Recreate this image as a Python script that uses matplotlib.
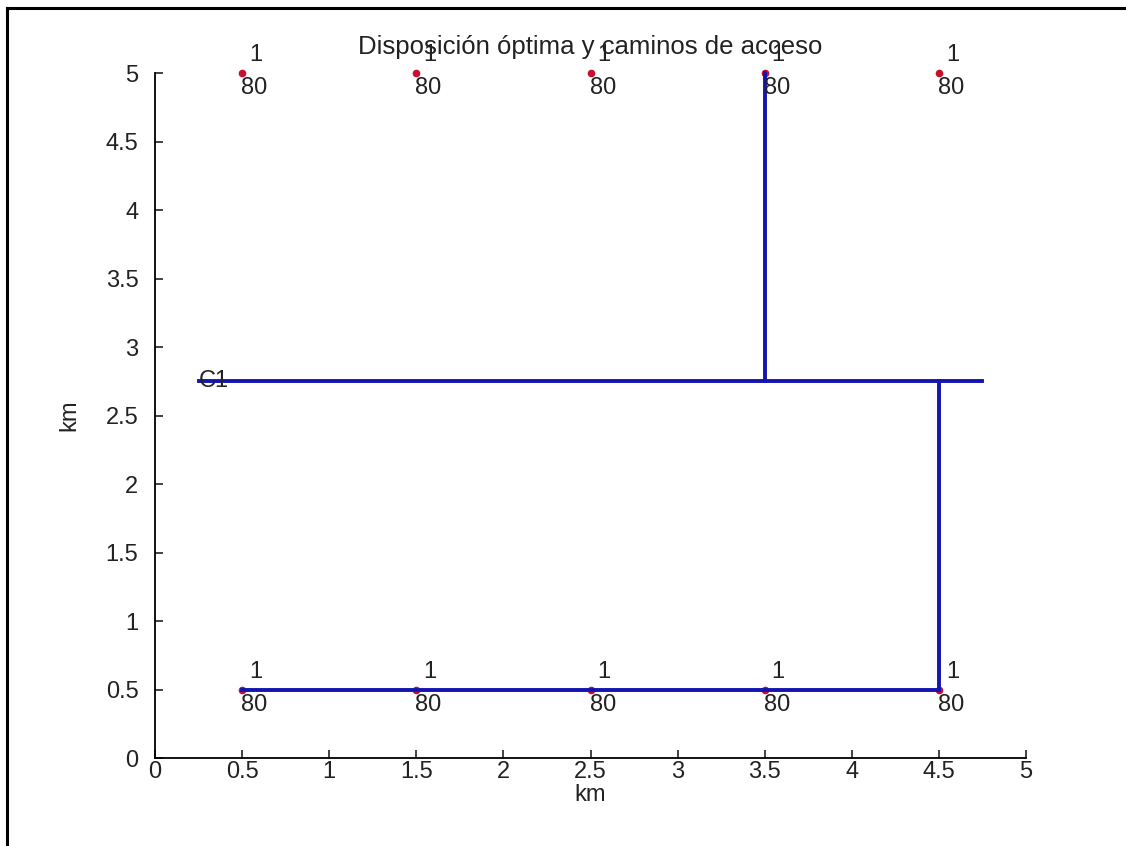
import matplotlib
matplotlib.use("Agg")
import matplotlib.pyplot as plt
from matplotlib.lines import Line2D

plt.rcParams['font.family'] = ['Liberation Sans', 'DejaVu Sans']

# turbine positions (km)
pos_x = [0.5, 1.5, 2.5, 3.5, 4.5, 0.5, 1.5, 2.5, 3.5, 4.5]
pos_y = [5, 5, 5, 5, 5, 0.5, 0.5, 0.5, 0.5, 0.5]
top_label = ['1'] * 10
bottom_label = ['80'] * 10

# access roads, each segment as (x list, y list)
roads = [
    ([0.25, 4.75], [2.75, 2.75]),
    ([3.5, 3.5], [2.75, 5]),
    ([4.5, 4.5], [0.5, 2.75]),
    ([0.5, 4.5], [0.5, 0.5]),
]
center_label = 'C1'
center_x, center_y = 0.25, 2.75

ticks = [0, 0.5, 1, 1.5, 2, 2.5, 3, 3.5, 4, 4.5, 5]
tick_labels = ['0', '0.5', '1', '1.5', '2', '2.5', '3', '3.5', '4', '4.5', '5']

fig = plt.figure(figsize=(11.26, 8.46), dpi=100)
ax = fig.add_axes([0.1377, 0.104, 0.7735, 0.8097])

ax.plot(pos_x, pos_y, '.', color='#c8102e', markersize=9, zorder=2,
        clip_on=False)
for xs, ys in roads:
    ax.plot(xs, ys, color='#1414b0', linewidth=2.8, zorder=3, clip_on=False)

for x, y, t, b in zip(pos_x, pos_y, top_label, bottom_label):
    ax.annotate(t, (x, y), xytext=(7, 7), textcoords='offset pixels',
                ha='left', va='bottom', fontsize=17, color='#222222', zorder=4)
    ax.annotate(b, (x, y), xytext=(-1, -4), textcoords='offset pixels',
                ha='left', va='top', fontsize=17, color='#222222', zorder=4)

ax.text(center_x, center_y, center_label, ha='left', va='center',
        fontsize=17, color='#222222', zorder=4)

ax.set_xlim(0, 5)
ax.set_ylim(0, 5)
ax.set_xticks(ticks)
ax.set_xticklabels(tick_labels)
ax.set_yticks(ticks)
ax.set_yticklabels(tick_labels)
ax.tick_params(direction='in', length=6, width=1.2, labelsize=17,
               colors='#222222')
ax.tick_params(axis='x', pad=2)
ax.tick_params(axis='y', pad=12)
ax.spines['top'].set_visible(False)
ax.spines['right'].set_visible(False)
ax.spines['left'].set_linewidth(1.3)
ax.spines['bottom'].set_linewidth(1.3)

ax.set_xlabel('km', fontsize=17, color='#222222', labelpad=1)
ax.set_ylabel('km', fontsize=17, color='#222222', labelpad=18)
ax.set_title('Disposición óptima y caminos de acceso', fontsize=18.5,
             color='#222222', pad=14)

# frame of the screenshot (left and top edges)
fig.add_artist(Line2D([7 / 1126, 7 / 1126], [0, 1 - 8 / 846],
                      transform=fig.transFigure, color='black', linewidth=2.2))
fig.add_artist(Line2D([7 / 1126, 1], [1 - 8 / 846, 1 - 8 / 846],
                      transform=fig.transFigure, color='black', linewidth=2.2))

plt.savefig('out.png', dpi=100)
